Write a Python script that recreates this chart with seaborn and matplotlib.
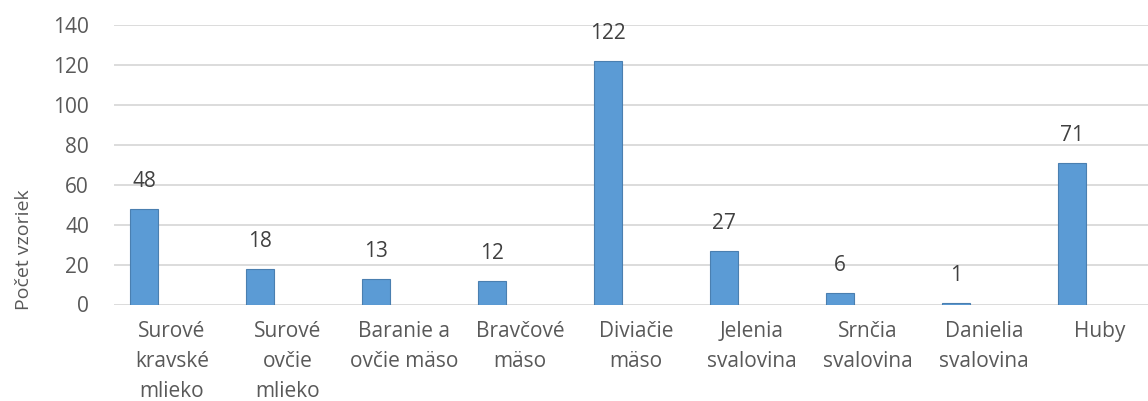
import matplotlib
matplotlib.use("Agg")
import matplotlib.pyplot as plt
import seaborn as sns
import pandas as pd

# kategórie a počty vzoriek
categories = [
    "Surové\nkravské\nmlieko",
    "Surové\novčie\nmlieko",
    "Baranie a\novčie mäso",
    "Bravčové\nmäso",
    "Diviačie\nmäso",
    "Jelenia\nsvalovina",
    "Srnčia\nsvalovina",
    "Danielia\nsvalovina",
    "Huby",
]
counts = [48, 18, 13, 12, 122, 27, 6, 1, 71]
# excel graf mal 3 série, vyplnená je iba prvá
empty = [0] * len(categories)
series = ["Počet", "S2", "S3"]

df = pd.DataFrame({"kategoria": categories, "Počet": counts, "S2": empty, "S3": empty})
df = df.melt(id_vars="kategoria", var_name="seria", value_name="pocet")

sns.set_style("white")
plt.rcParams["font.family"] = ["Open Sans", "DejaVu Sans"]
FS = 15

fig = plt.figure(figsize=(11.48, 4.01), dpi=100)
ax = fig.add_axes([114 / 1148, 1 - 304.5 / 401, 1044 / 1148, 279.5 / 401])

sns.barplot(
    data=df, x="kategoria", y="pocet", hue="seria", hue_order=series,
    order=categories, width=0.724, palette=["#5B9BD5"] * 3, saturation=1,
    edgecolor="#4A7FB0", linewidth=0.8, legend=False, errorbar=None, ax=ax,
)
# prázdne série bez okrajov
for cont in ax.containers[1:]:
    for p in cont:
        p.set_linewidth(0)

ax.set_xlim(-0.5, 8.5)
ax.set_ylim(0, 140)
ax.set_yticks(range(0, 141, 20))
ax.grid(axis="y", color="#D9D9D9", linewidth=1.3)
ax.set_axisbelow(True)
for s in ax.spines.values():
    s.set_visible(False)

ax.tick_params(axis="y", length=0, pad=18, labelsize=FS, labelcolor="#595959")
ax.tick_params(axis="x", length=0, pad=12, labelsize=FS, labelcolor="#595959")
for lbl in ax.get_xticklabels():
    lbl.set_linespacing(1.55)

ax.bar_label(ax.containers[0], padding=12, fontsize=FS, color="#404040")

ax.set_xlabel("")
ax.set_ylabel("Počet vzoriek", fontsize=FS - 1, color="#595959")
ax.yaxis.set_label_coords(-0.078, 0.195)

fig.savefig("out.png", dpi=100)
